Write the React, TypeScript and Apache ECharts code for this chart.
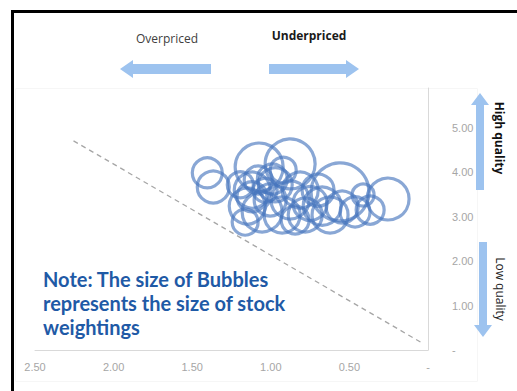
import React, { useEffect, useRef } from "react";
import * as echarts from "echarts";

// Bubble data: [valuation (x, inverted), quality score (y), stock weighting (%)]
const bubbleX = [1.404, 1.366, 1.074, 0.877, 0.559, 0.254, 1.15, 0.877, 0.673, 0.546, 0.413, 1.118, 1.055, 0.972, 1.004, 0.928, 0.813, 0.781, 0.699, 0.623, 0.464, 0.368, 1.163, 1.08, 0.921, 1.194, 0.845, 1.036, 0.99, 0.75, 1.12];
const bubbleY = [3.99, 3.67, 4.12, 4.19, 3.56, 3.4, 3.24, 3.38, 3.24, 3.22, 3.49, 3.6, 3.11, 3.72, 3.38, 3.04, 3.6, 3.04, 3.6, 3.04, 3.11, 3.15, 2.88, 3.83, 4.05, 3.72, 2.93, 3.6, 3.85, 3.3, 3.45];
const bubbleWeight = [2.25, 2.56, 5.76, 6.25, 8.41, 4.41, 3.24, 3.61, 3.61, 2.56, 1.21, 3.24, 4.0, 2.89, 2.56, 3.24, 3.24, 2.89, 2.56, 3.24, 2.25, 1.96, 1.69, 1.96, 1.69, 1.69, 1.96, 1.44, 2.25, 2.89, 2.25];

// Dashed reference line end points
const refLineX = [2.255, 0.038];
const refLineY = [4.71, 0.16];

const xTicks = [0, 0.5, 1, 1.5, 2, 2.5];
const yTicks = [0, 1, 2, 3, 4, 5];

const noteLines = ["Note: The size of Bubbles", "represents the size of stock", "weightings"];

const fmt = (v: number) => (Math.abs(v) < 1e-9 ? "-" : v.toFixed(2));

export default function App() {
  const ref = useRef<HTMLDivElement>(null);
  useEffect(() => {
    if (!ref.current) return;
    const chart = echarts.init(ref.current, undefined, { renderer: "svg" });
    const arrowFill = "#9dc3ef";
    const bubbles = bubbleX.map((x, i) => [x, bubbleY[i], bubbleWeight[i]]);
    const line = refLineX.map((x, i) => [x, refLineY[i]]);
    chart.setOption({
      animation: false,
      backgroundColor: "#ffffff",
      grid: { left: 35, right: 89, top: 88, bottom: 41 },
      xAxis: {
        type: "value",
        inverse: true,
        min: 0,
        max: 2.5,
        interval: 0.5,
        axisLine: { show: true, lineStyle: { color: "#d9d9d9" } },
        axisTick: { show: false },
        splitLine: { show: false },
        axisLabel: {
          margin: 11,
          color: "#a6a6a6",
          fontSize: 11,
          fontFamily: "Liberation Sans",
          formatter: (v: number) => (xTicks.some((t) => Math.abs(t - v) < 1e-9) ? fmt(v) : ""),
        },
      },
      yAxis: {
        type: "value",
        position: "right",
        min: 0,
        max: 5.9,
        interval: 1,
        axisLine: { show: true, lineStyle: { color: "#d9d9d9" } },
        axisTick: { show: false },
        splitLine: { show: false },
        axisLabel: {
          margin: 24,
          color: "#a6a6a6",
          fontSize: 11,
          fontFamily: "Liberation Sans",
          formatter: (v: number) => (yTicks.some((t) => Math.abs(t - v) < 1e-9) ? fmt(v) : ""),
        },
      },
      series: [
        {
          type: "line",
          data: line,
          symbol: "none",
          silent: true,
          lineStyle: { type: [5, 4], color: "#a6a6a6", width: 1.3 },
        },
        {
          type: "scatter",
          data: bubbles,
          symbol: "circle",
          symbolSize: (v: number[]) => 20 * Math.sqrt(v[2]),
          itemStyle: {
            color: "rgba(255,255,255,0)",
            borderColor: "rgba(70,118,190,0.8)",
            borderWidth: 3.2,
          },
        },
      ],
      graphic: [
        {
          type: "rect",
          silent: true,
          shape: { x: 15.5, y: 88.5, width: 462, height: 293 },
          style: { fill: "none", stroke: "#f6f6f6", lineWidth: 1 },
        },
        {
          type: "rect",
          silent: true,
          shape: { x: 12.5, y: 11.5, width: 600, height: 500 },
          style: { fill: "none", stroke: "#000000", lineWidth: 3 },
        },
        {
          type: "text",
          x: 167,
          y: 38,
          style: { text: "Overpriced", fill: "#404040", font: "12px 'Open Sans'", textAlign: "center", textVerticalAlign: "middle" },
        },
        {
          type: "text",
          x: 309,
          y: 35,
          style: { text: "Underpriced", fill: "#1a1a1a", font: "bold 12px 'Open Sans'", textAlign: "center", textVerticalAlign: "middle" },
        },
        {
          type: "polygon",
          shape: { points: [[120, 69], [133, 60], [133, 64], [211, 64], [211, 74], [133, 74], [133, 78]] },
          style: { fill: arrowFill },
        },
        {
          type: "polygon",
          shape: { points: [[359, 69], [346, 60], [346, 64], [269, 64], [269, 74], [346, 74], [346, 78]] },
          style: { fill: arrowFill },
        },
        {
          type: "polygon",
          shape: { points: [[480, 93], [489, 105], [484, 105], [484, 190], [476, 190], [476, 105], [471, 105]] },
          style: { fill: arrowFill },
        },
        {
          type: "polygon",
          shape: { points: [[483, 337], [492, 325], [487, 325], [487, 242], [479, 242], [479, 325], [474, 325]] },
          style: { fill: arrowFill },
        },
        {
          type: "text",
          x: 499,
          y: 138,
          rotation: -Math.PI / 2,
          style: { text: "High quality", fill: "#111", font: "bold 12px 'Open Sans'", textAlign: "center", textVerticalAlign: "middle" },
        },
        {
          type: "text",
          x: 500,
          y: 289,
          rotation: -Math.PI / 2,
          style: { text: "Low quality", fill: "#222", font: "12px 'Open Sans'", textAlign: "center", textVerticalAlign: "middle" },
        },
        ...noteLines.map((t, i) => ({
          type: "text",
          x: 43,
          y: 279 + i * 24,
          style: { text: t, fill: "#1f5aa6", font: "bold 20px Lato", textAlign: "left", textVerticalAlign: "middle" },
        })),
      ],
    });
    return () => chart.dispose();
  }, []);
  return (
    <div style={{ position: "fixed", left: 0, top: 0, width: 517, height: 391, background: "#fff" }}>
      <div ref={ref} style={{ width: 517, height: 391 }} />
    </div>
  );
}
